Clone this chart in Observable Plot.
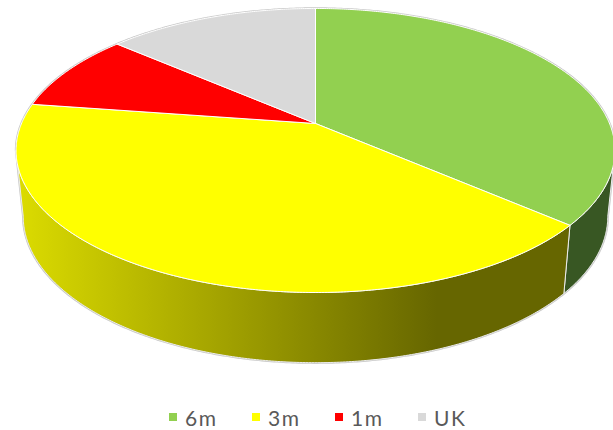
<!DOCTYPE html>
<html>
<head>
<meta charset="utf-8">
<script src="https://cdn.jsdelivr.net/npm/d3@7"></script>
<script src="https://cdn.jsdelivr.net/npm/@observablehq/plot@0.6"></script>
<style>
  html, body { margin: 0; padding: 0; background: #fff; overflow: hidden; }
  #chart svg { display: block; }
  #legend { display: flex; justify-content: center; gap: 36px; height: 30px; align-items: center;
    font: 21px Lato, sans-serif; letter-spacing: 1.5px; color: #595959; position: relative; left: 10.5px; top: 2px; }
  #legend .item { display: flex; align-items: center; gap: 8px; }
  #legend .label { width: 31px; white-space: nowrap; }
  #legend .swatch { width: 8px; height: 8px; display: inline-block; }
</style>
</head>
<body>
<div id="chart"></div>
<div id="legend"></div>
<script>
const categories = ["6m", "3m", "1m", "UK"];
const shares = [36.3, 41.0, 9.0, 13.7];
const topColors = ["#92d050", "#ffff00", "#ff0000", "#d9d9d9"];
const sideFills = ["#385723", "url(#side3m)", "#800000", "#6d6d6d"];

const width = 613, height = 400;
const tilt = 0.19;                 // perspective of the disc
const bottomScaleX = 0.976, bottomScaleY = 1.03, bottomShift = -0.4755;

const arcs = d3.pie().sort(null).value(d => d)(shares);
const project = t => {
  const u = Math.sin(t), v = Math.cos(t), s = 1 + tilt * v;
  return {x: u / s, y: v / s};
};
const sinkPoint = p => ({x: p.x * bottomScaleX, y: p.y * bottomScaleY + bottomShift});
const sweep = (a, b) => {
  const n = Math.max(2, Math.ceil((b - a) / (Math.PI / 360)));
  return d3.range(n + 1).map(i => a + (b - a) * i / n);
};

// top faces
const topFaces = arcs.flatMap((arc, i) => {
  const rim = sweep(arc.startAngle, arc.endAngle).map(project);
  return [{x: 0, y: 0}, ...rim, {x: 0, y: 0}].map(p => ({...p, category: categories[i]}));
});

// side walls: only the part of each rim that faces the viewer
const frontStart = Math.acos(-tilt), frontEnd = 2 * Math.PI - frontStart;
const sideFaces = arcs.map((arc, i) => {
  const a = Math.max(arc.startAngle, frontStart), b = Math.min(arc.endAngle, frontEnd);
  if (b <= a) return null;
  const upper = sweep(a, b).map(project);
  const lower = upper.map(sinkPoint).reverse();
  return {fill: sideFills[i], points: [...upper, ...lower, upper[0]]};
}).filter(Boolean);

// outer silhouette
const outline = [
  ...sweep(frontEnd, frontStart + 2 * Math.PI).map(project),
  ...sweep(frontStart, frontEnd).map(project).map(sinkPoint),
  project(frontEnd),
];

const gradient = () => {
  const defs = d3.create("svg:defs");
  const g = defs.append("linearGradient").attr("id", "side3m").attr("x1", 0).attr("x2", 1).attr("y1", 0).attr("y2", 0);
  g.append("stop").attr("offset", 0).attr("stop-color", "#dcdc00");
  g.append("stop").attr("offset", 0.76).attr("stop-color", "#666600");
  g.append("stop").attr("offset", 1).attr("stop-color", "#666600");
  return defs.node();
};

const plot = Plot.plot({
  width, height,
  margin: 0,
  x: {domain: [-315 / 294, (width - 315) / 294], range: [0, width], axis: null},
  y: {domain: [123 / 136.9, (123 - height) / 136.9], range: [0, height], axis: null},
  color: {domain: categories, range: topColors},
  marks: [
    gradient,
    Plot.line(outline, {x: "x", y: "y", stroke: "#c8c8c8", strokeWidth: 2.4}),
    ...sideFaces.map(s => Plot.line(s.points, {x: "x", y: "y", fill: s.fill, stroke: "#ececec", strokeWidth: 1})),
    Plot.line(topFaces, {x: "x", y: "y", z: "category", fill: "category", stroke: "#fff", strokeWidth: 1}),
  ],
});
document.getElementById("chart").append(plot);

const legend = d3.select("#legend");
categories.forEach((c, i) => {
  const item = legend.append("div").attr("class", "item");
  item.append("span").attr("class", "swatch").style("background", topColors[i]);
  item.append("span").attr("class", "label").text(c);
});
</script>
</body>
</html>
